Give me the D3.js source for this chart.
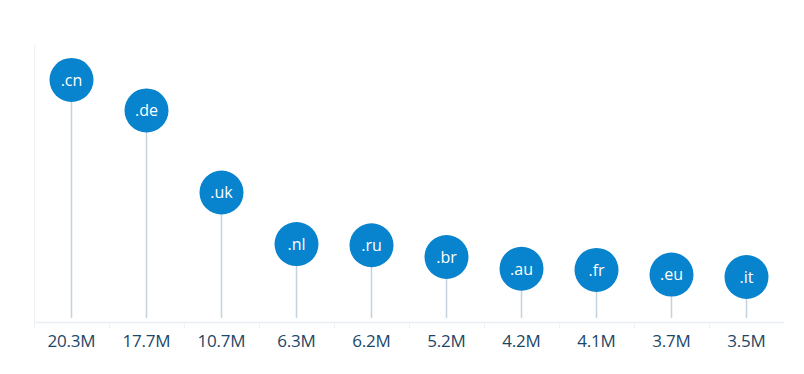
<!DOCTYPE html>
<html>
<head>
<meta charset="utf-8">
<script src="https://cdn.jsdelivr.net/npm/d3@7"></script>
<style>
  body { margin: 0; background: #fff; }
  svg text { font-family: "Open Sans", sans-serif; }
</style>
</head>
<body>
<div id="chart"></div>
<script>
var domains = ['.cn', '.de', '.uk', '.nl', '.ru', '.br', '.au', '.fr', '.eu', '.it'];
var counts = [20.3, 17.7, 10.7, 6.3, 6.2, 5.2, 4.2, 4.1, 3.7, 3.5];
var countLabels = ['20.3M', '17.7M', '10.7M', '6.3M', '6.2M', '5.2M', '4.2M', '4.1M', '3.7M', '3.5M'];

var width = 804, height = 374;
var left = 34, right = 784, baseY = 322, zeroY = 318, topY = 45;

var svg = d3.select('#chart').append('svg')
  .attr('width', width)
  .attr('height', height);

var x = d3.scaleBand()
  .domain(domains)
  .range([left, right]);

var y = d3.scaleLinear()
  .domain([0, 23.28])
  .range([zeroY, topY]);

// left axis line
svg.append('line')
  .attr('x1', left + 0.5).attr('x2', left + 0.5)
  .attr('y1', topY).attr('y2', baseY)
  .attr('stroke', '#eef2f6');

// bottom axis
var xAxis = d3.axisBottom(x)
  .tickSize(0)
  .tickFormat(function (d, i) { return countLabels[i]; });

var gx = svg.append('g')
  .attr('transform', 'translate(0,' + baseY + ')')
  .call(xAxis);
gx.attr('font-family', null);
gx.select('.domain').attr('stroke', '#e8eef4').attr('stroke-width', 1.5);
gx.selectAll('text')
  .attr('y', 24.5)
  .attr('dy', null)
  .attr('fill', '#1c4766')
  .style('font-size', '17px')
  .style('letter-spacing', '-0.2px');

// band separators
svg.append('g').selectAll('line')
  .data(domains)
  .enter().append('line')
  .attr('x1', function (d) { return x(d) + 0.5; })
  .attr('x2', function (d) { return x(d) + 0.5; })
  .attr('y1', baseY)
  .attr('y2', baseY + 6)
  .attr('stroke', '#eef2f6');

var dots = svg.append('g').selectAll('g')
  .data(domains)
  .enter().append('g')
  .attr('transform', function (d) { return 'translate(' + (x(d) + x.bandwidth() / 2) + ',0)'; });

dots.append('line')
  .attr('y1', function (d, i) { return y(counts[i]); })
  .attr('y2', zeroY)
  .attr('stroke', '#c3d2de')
  .attr('stroke-width', 1.5);

dots.append('circle')
  .attr('cy', function (d, i) { return y(counts[i]); })
  .attr('r', 22)
  .attr('fill', '#0883cd');

dots.append('text')
  .attr('y', function (d, i) { return y(counts[i]); })
  .attr('dy', '0.36em')
  .attr('text-anchor', 'middle')
  .attr('fill', '#fff')
  .style('font-size', '16px')
  .text(function (d) { return d; });
</script>
</body>
</html>
